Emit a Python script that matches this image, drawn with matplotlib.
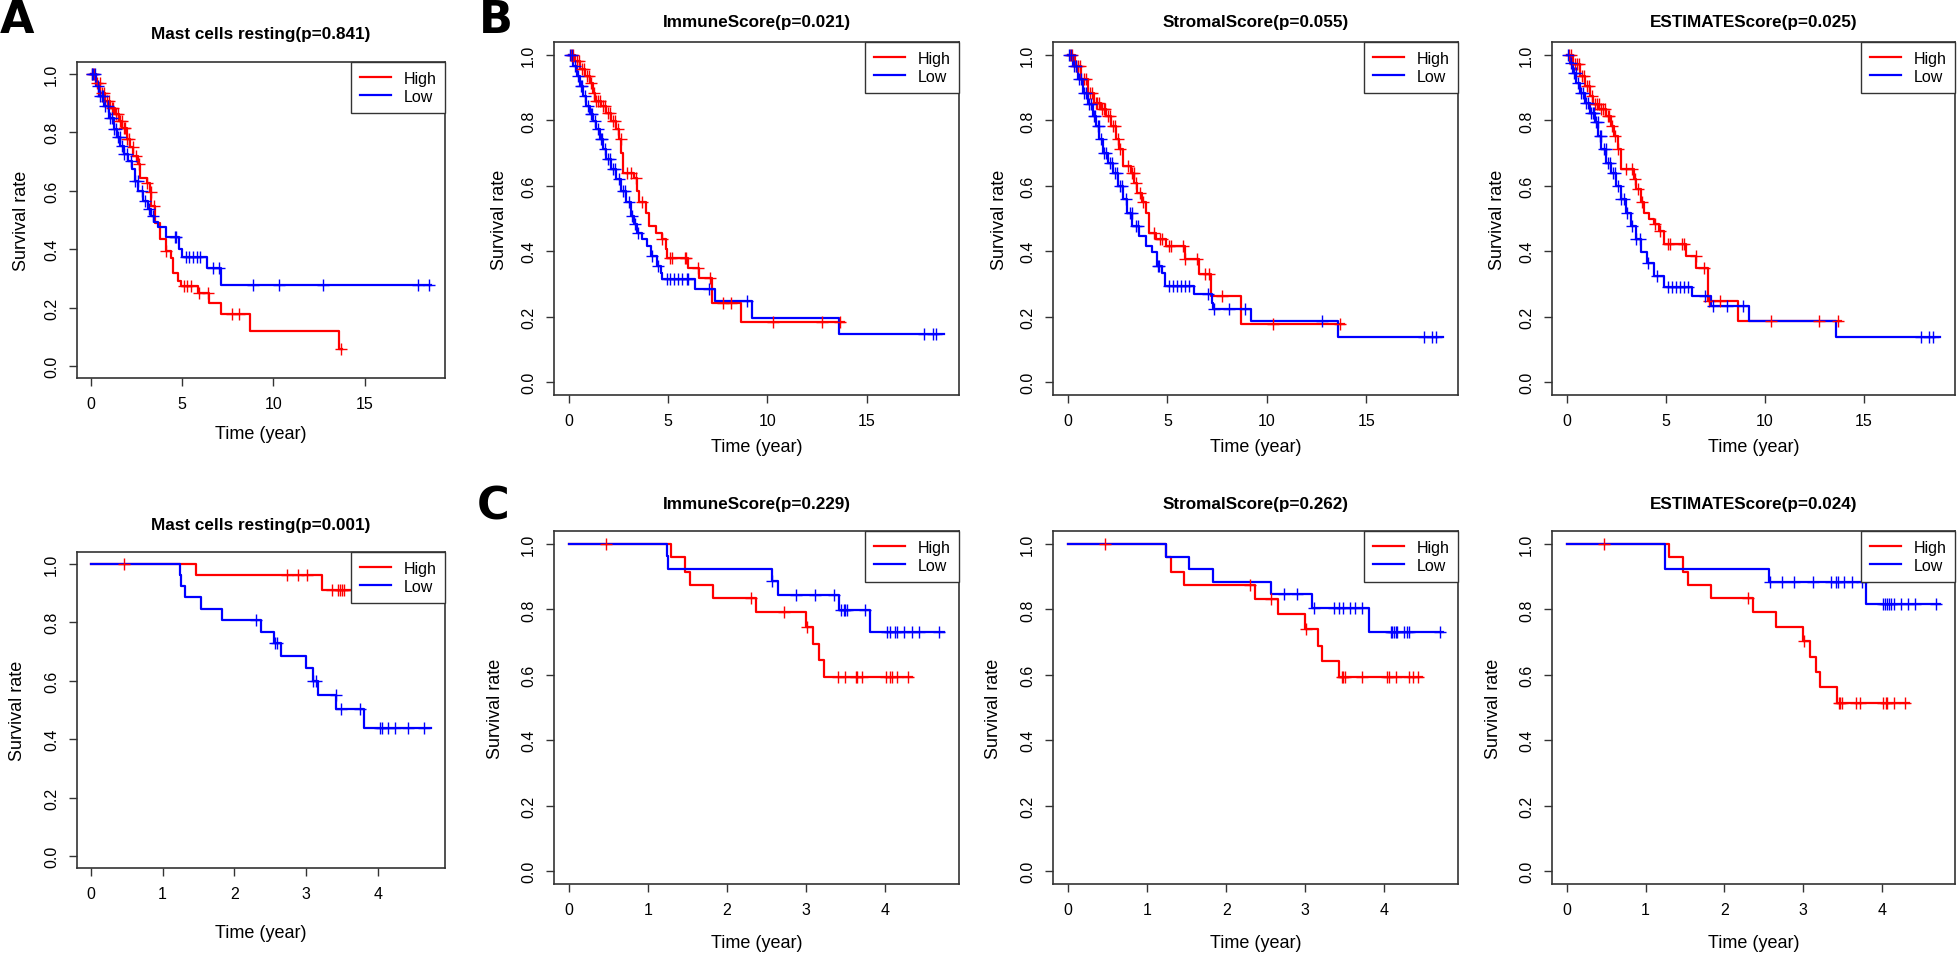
import numpy as np
import matplotlib
matplotlib.use('Agg')
import matplotlib.pyplot as plt
from matplotlib.lines import Line2D

plt.rcParams['font.family'] = ['Liberation Sans', 'DejaVu Sans']

W, H = 1957, 954

# ---- A (top): Mast cells resting, training set ----
A1_HIGH_T = [0, 0.27, 0.54, 0.81, 1.08, 1.35, 1.53, 1.71, 1.98, 2.16, 2.34, 2.61, 2.72, 3.06, 3.24,
             3.33, 3.5, 3.78, 4.14, 4.4, 4.5, 4.77, 4.95, 5.9, 6.5, 7.15, 8.7, 13.6, 13.75]
A1_HIGH_S = [1.0, 0.969, 0.935, 0.907, 0.884, 0.861, 0.838, 0.816, 0.776, 0.748, 0.719, 0.691, 0.645, 0.628, 0.594,
             0.548, 0.49, 0.434, 0.395, 0.37, 0.32, 0.293, 0.276, 0.25, 0.215, 0.18, 0.12, 0.06, 0.06]
A1_HIGH_C = [0.1, 0.2, 0.35, 0.5, 0.6, 0.75, 0.9, 1.0, 1.15, 1.25, 1.4, 1.5, 1.6, 1.7, 1.8, 1.9, 2.0, 2.1,
             2.3, 2.5, 2.65, 3.1, 3.3, 3.45, 4.15, 5.1, 5.3, 5.5, 5.95, 6.45, 7.75, 8.1, 13.7]
A1_LOW_T = [0, 0.27, 0.45, 0.72, 0.99, 1.26, 1.44, 1.62, 1.8, 2.07, 2.25, 2.43, 2.61, 2.88, 3.15, 3.33,
            3.46, 3.69, 4.14, 4.86, 5.0, 6.35, 7.15, 18.65]
A1_LOW_S = [1.0, 0.958, 0.924, 0.89, 0.85, 0.81, 0.782, 0.753, 0.725, 0.702, 0.674, 0.634, 0.6, 0.566, 0.537, 0.515,
            0.492, 0.475, 0.443, 0.40, 0.375, 0.335, 0.277, 0.277]
A1_LOW_C = [0.05, 0.15, 0.25, 0.4, 0.5, 0.6, 0.7, 0.8, 0.95, 1.05, 1.15, 1.3, 1.4, 1.5, 1.6, 1.7, 1.85, 2.0,
            2.2, 2.45, 2.6, 2.8, 3.0, 3.2, 3.4, 4.6, 4.7, 5.2, 5.4, 5.6, 5.8, 6.0, 6.7, 7.0, 8.9, 10.3, 12.7,
            17.9, 18.5]

# ---- B: ImmuneScore ----
B1_HIGH_T = [0, 0.3, 0.55, 0.8, 1.05, 1.21, 1.3, 1.63, 1.88, 2.13, 2.38, 2.54, 2.63, 2.71, 3.29, 3.45, 3.54,
             3.87, 4.04, 4.37, 4.7, 4.87, 4.95, 6.0, 6.53, 7.19, 8.69, 13.84]
B1_HIGH_S = [1.0, 0.982, 0.956, 0.936, 0.916, 0.885, 0.86, 0.844, 0.824, 0.798, 0.773, 0.742, 0.701, 0.64, 0.625,
             0.584, 0.549, 0.518, 0.477, 0.457, 0.436, 0.406, 0.38, 0.35, 0.319, 0.243, 0.182, 0.182]
B1_HIGH_C = [0.1, 0.2, 0.4, 0.5, 0.65, 0.75, 0.9, 1.0, 1.1, 1.25, 1.35, 1.45, 1.55, 1.7, 1.8, 1.95, 2.05,
             2.2, 2.3, 2.45, 2.6, 2.9, 3.12, 3.37, 3.7, 4.7, 5.1, 5.2, 5.85, 5.9, 6.5, 7.1, 7.77, 8.15, 10.3,
             12.76, 13.67]
B1_LOW_T = [0, 0.21, 0.38, 0.55, 0.71, 0.88, 1.05, 1.21, 1.38, 1.54, 1.71, 1.88, 2.13, 2.38, 2.63, 2.87, 3.12,
            3.29, 3.45, 3.7, 3.95, 4.12, 4.45, 4.62, 4.7, 6.36, 7.36, 9.24, 13.59, 18.9]
B1_LOW_S = [1.0, 0.966, 0.936, 0.905, 0.875, 0.844, 0.819, 0.798, 0.773, 0.742, 0.712, 0.681, 0.65, 0.62, 0.584,
            0.549, 0.508, 0.482, 0.457, 0.436, 0.416, 0.385, 0.355, 0.334, 0.314, 0.283, 0.248, 0.197, 0.148, 0.148]
B1_LOW_C = [0.05, 0.15, 0.3, 0.45, 0.6, 0.65, 0.8, 0.95, 1.1, 1.15, 1.3, 1.45, 1.6, 1.65, 1.8, 1.95, 2.05, 2.2,
            2.3, 2.5, 2.7, 2.8, 3.0, 3.2, 3.35, 3.5, 4.2, 4.5, 4.95, 5.1, 5.3, 5.5, 5.7, 5.95, 6.0, 7.05, 8.95,
            17.9, 18.35, 18.5]

# ---- B: StromalScore ----
B2_HIGH_T = [0, 0.33, 0.66, 1.0, 1.33, 1.66, 1.91, 2.16, 2.4, 2.57, 2.74, 3.15, 3.32, 3.48, 3.73, 3.9, 4.07,
             4.4, 4.95, 5.89, 6.56, 7.17, 8.68, 13.87]
B2_HIGH_S = [1.0, 0.966, 0.926, 0.885, 0.854, 0.834, 0.813, 0.783, 0.742, 0.712, 0.661, 0.64, 0.61, 0.579, 0.549,
             0.518, 0.457, 0.436, 0.416, 0.375, 0.329, 0.263, 0.176, 0.176]
B2_HIGH_C = [0.1, 0.2, 0.4, 0.5, 0.6, 0.8, 0.9, 1.1, 1.2, 1.4, 1.45, 1.55, 1.7, 1.8, 1.85, 2.0, 2.1, 2.25,
             2.35, 2.5, 2.6, 3.0, 3.2, 3.3, 3.4, 3.6, 3.75, 4.3, 4.6, 4.7, 5.1, 5.2, 5.8, 5.9, 6.5, 6.9, 7.1,
             7.75, 10.3, 13.65]
B2_LOW_T = [0, 0.25, 0.5, 0.75, 1.0, 1.24, 1.41, 1.58, 1.74, 1.99, 2.24, 2.49, 2.74, 2.99, 3.24, 3.57, 3.9,
            4.23, 4.48, 4.73, 4.89, 6.32, 7.22, 7.3, 9.22, 13.57, 18.85]
B2_LOW_S = [1.0, 0.966, 0.926, 0.885, 0.849, 0.813, 0.783, 0.742, 0.701, 0.671, 0.64, 0.599, 0.559, 0.518, 0.477,
            0.446, 0.416, 0.396, 0.355, 0.334, 0.294, 0.268, 0.243, 0.222, 0.187, 0.138, 0.138]
B2_LOW_C = [0.05, 0.15, 0.3, 0.4, 0.55, 0.65, 0.8, 0.9, 1.05, 1.15, 1.3, 1.35, 1.5, 1.55, 1.65, 1.8, 1.9, 2.1,
            2.2, 2.35, 2.45, 2.6, 2.7, 2.9, 3.1, 3.2, 3.4, 3.5, 4.5, 4.55, 5.1, 5.3, 5.5, 5.7, 5.9, 6.1, 7.05,
            7.35, 8.1, 8.9, 12.75, 17.9, 18.3, 18.5]

# ---- B: ESTIMATEScore ----
B3_HIGH_T = [0, 0.31, 0.65, 0.9, 1.15, 1.31, 1.64, 1.98, 2.23, 2.39, 2.56, 2.73, 3.39, 3.47, 3.72, 3.89, 4.14,
             4.39, 4.63, 4.88, 6.04, 6.54, 7.13, 8.66, 13.87]
B3_HIGH_S = [1.0, 0.972, 0.936, 0.905, 0.875, 0.849, 0.834, 0.813, 0.783, 0.752, 0.712, 0.65, 0.62, 0.589, 0.549,
             0.518, 0.498, 0.482, 0.462, 0.421, 0.385, 0.35, 0.248, 0.187, 0.187]
B3_HIGH_C = [0.1, 0.2, 0.4, 0.5, 0.6, 0.75, 0.85, 1.0, 1.1, 1.25, 1.4, 1.5, 1.6, 1.7, 1.8, 1.9, 2.05, 2.15,
             2.3, 2.45, 2.6, 3.0, 3.3, 3.45, 3.6, 3.8, 4.45, 4.7, 5.1, 5.2, 5.8, 5.9, 6.5, 6.9, 7.2, 7.75, 10.3,
             12.75, 13.7]
B3_LOW_T = [0, 0.15, 0.31, 0.48, 0.65, 0.9, 1.15, 1.4, 1.56, 1.73, 1.98, 2.23, 2.48, 2.73, 2.98, 3.22, 3.47,
            3.72, 4.05, 4.38, 4.88, 6.34, 7.29, 9.22, 13.57, 18.85]
B3_LOW_S = [1.0, 0.977, 0.946, 0.916, 0.885, 0.854, 0.824, 0.794, 0.752, 0.712, 0.671, 0.64, 0.599, 0.559, 0.518,
            0.477, 0.436, 0.396, 0.365, 0.324, 0.289, 0.263, 0.232, 0.187, 0.138, 0.138]
B3_LOW_C = [0.05, 0.2, 0.35, 0.45, 0.55, 0.7, 0.8, 0.95, 1.05, 1.2, 1.3, 1.35, 1.45, 1.55, 1.65, 1.7, 1.85,
            1.95, 2.1, 2.2, 2.35, 2.45, 2.6, 2.75, 2.9, 3.05, 3.3, 3.5, 3.7, 4.1, 4.55, 5.1, 5.3, 5.5, 5.7, 5.9,
            6.1, 7.0, 7.4, 8.1, 8.9, 17.9, 18.3, 18.5]

# ---- A (bottom): Mast cells resting, validation set ----
A2_HIGH_T = [0, 1.466, 3.217, 4.3]
A2_HIGH_S = [1.0, 0.96, 0.91, 0.91]
A2_HIGH_C = [0.467, 2.73, 2.89, 3.01, 3.36, 3.44, 3.47, 3.5, 3.53, 3.64, 3.9, 4.1, 4.3]
A2_LOW_T = [0, 1.237, 1.26, 1.306, 1.535, 1.824, 2.369, 2.557, 2.648, 3.0, 3.093, 3.16, 3.42, 3.803, 4.74]
A2_LOW_S = [1.0, 0.96, 0.924, 0.886, 0.846, 0.808, 0.768, 0.728, 0.685, 0.642, 0.6, 0.552, 0.503, 0.44, 0.44]
A2_LOW_C = [2.3, 2.56, 2.59, 3.1, 3.14, 3.41, 3.48, 3.75, 4.02, 4.05, 4.13, 4.23, 4.42, 4.64]

# ---- C: ImmuneScore ----
C1_HIGH_T = [0, 1.297, 1.464, 1.535, 1.827, 2.369, 3.003, 3.087, 3.162, 3.224, 4.35]
C1_HIGH_S = [1.0, 0.959, 0.916, 0.876, 0.834, 0.791, 0.745, 0.694, 0.645, 0.594, 0.594]
C1_HIGH_C = [0.463, 2.31, 2.72, 3.01, 3.41, 3.5, 3.63, 3.65, 3.71, 4.02, 4.06, 4.09, 4.15, 4.3]
C1_LOW_T = [0, 1.237, 1.25, 2.565, 2.653, 3.424, 3.808, 4.75]
C1_LOW_S = [1.0, 0.964, 0.924, 0.886, 0.845, 0.797, 0.731, 0.731]
C1_LOW_C = [2.57, 2.88, 3.12, 3.36, 3.45, 3.48, 3.5, 3.52, 3.75, 4.025, 4.067, 4.13, 4.15, 4.246, 4.34,
            4.43, 4.69]

# ---- C: StromalScore ----
C2_HIGH_T = [0, 1.243, 1.305, 1.464, 2.36, 2.653, 3.0, 3.162, 3.207, 3.424, 4.475]
C2_HIGH_S = [1.0, 0.959, 0.916, 0.876, 0.832, 0.786, 0.74, 0.689, 0.641, 0.592, 0.592]
C2_HIGH_C = [0.463, 2.3, 2.57, 3.01, 3.46, 3.48, 3.5, 3.72, 4.03, 4.06, 4.15, 4.31, 4.36, 4.43]
C2_LOW_T = [0, 1.243, 1.535, 1.831, 2.569, 3.09, 3.808, 4.74]
C2_LOW_S = [1.0, 0.96, 0.924, 0.885, 0.847, 0.803, 0.731, 0.731]
C2_LOW_C = [2.73, 2.9, 3.11, 3.36, 3.42, 3.47, 3.57, 3.63, 3.72, 4.08, 4.1, 4.12, 4.14, 4.16, 4.25, 4.28,
            4.31, 4.7]

# ---- C: ESTIMATEScore ----
C3_HIGH_T = [0, 1.3, 1.471, 1.533, 1.825, 2.367, 2.654, 3.0, 3.092, 3.158, 3.22, 3.425, 4.35]
C3_HIGH_S = [1.0, 0.959, 0.916, 0.876, 0.834, 0.791, 0.745, 0.702, 0.655, 0.608, 0.562, 0.514, 0.514]
C3_HIGH_C = [0.467, 2.3, 3.01, 3.45, 3.47, 3.49, 3.67, 3.72, 4.02, 4.05, 4.07, 4.15, 4.3]
C3_LOW_T = [0, 1.242, 1.25, 2.563, 3.8, 4.74]
C3_LOW_S = [1.0, 0.961, 0.924, 0.885, 0.817, 0.817]
C3_LOW_C = [2.58, 2.73, 2.89, 3.13, 3.36, 3.42, 3.44, 3.52, 3.62, 3.75, 4.02, 4.04, 4.07, 4.09, 4.12, 4.15,
            4.25, 4.33, 4.42, 4.69]

TITLES = ['Mast cells resting(p=0.841)', 'ImmuneScore(p=0.021)', 'StromalScore(p=0.055)',
          'ESTIMATEScore(p=0.025)', 'Mast cells resting(p=0.001)', 'ImmuneScore(p=0.229)',
          'StromalScore(p=0.262)', 'ESTIMATEScore(p=0.024)']
XTICKS_LONG = [0, 5, 10, 15]
XTICKS_SHORT = [0, 1, 2, 3, 4]
YTICKS = [0.0, 0.2, 0.4, 0.6, 0.8, 1.0]

CURVES = [
    (A1_HIGH_T, A1_HIGH_S, A1_HIGH_C, A1_LOW_T, A1_LOW_S, A1_LOW_C),
    (B1_HIGH_T, B1_HIGH_S, B1_HIGH_C, B1_LOW_T, B1_LOW_S, B1_LOW_C),
    (B2_HIGH_T, B2_HIGH_S, B2_HIGH_C, B2_LOW_T, B2_LOW_S, B2_LOW_C),
    (B3_HIGH_T, B3_HIGH_S, B3_HIGH_C, B3_LOW_T, B3_LOW_S, B3_LOW_C),
    (A2_HIGH_T, A2_HIGH_S, A2_HIGH_C, A2_LOW_T, A2_LOW_S, A2_LOW_C),
    (C1_HIGH_T, C1_HIGH_S, C1_HIGH_C, C1_LOW_T, C1_LOW_S, C1_LOW_C),
    (C2_HIGH_T, C2_HIGH_S, C2_HIGH_C, C2_LOW_T, C2_LOW_S, C2_LOW_C),
    (C3_HIGH_T, C3_HIGH_S, C3_HIGH_C, C3_LOW_T, C3_LOW_S, C3_LOW_C),
]

# layout in pixels: (left, top, right, bottom), title gap, ylabel gap, xlabel gap
BOXES = [(77, 63, 445, 379), (554, 43, 959, 396), (1053, 43, 1458, 396), (1552, 43, 1955, 396),
         (77, 553, 445, 869), (554, 532, 959, 885), (1053, 532, 1458, 885), (1552, 532, 1955, 885)]
TITLE_GAP = [35, 27, 27, 27, 34, 34, 34, 34]
YLAB_GAP = [55, 54, 54, 54, 59, 59, 59, 59]
XLAB_GAP = [56, 51, 51, 51, 65, 59, 59, 59]

RED = '#FF0000'
BLUE = '#0000FF'
EDGE = '#333333'


def km_curve(ax, t, s, cens, color):
    t = np.asarray(t)
    s = np.asarray(s)
    ax.step(t, s, where='post', color=color, lw=1.6, zorder=2)
    c = np.asarray(cens)
    idx = np.searchsorted(t, c, side='right') - 1
    ax.plot(c, s[idx], ls='none', marker='+', ms=8, mew=1.0, color=color, zorder=3)


fig = plt.figure(figsize=(W / 100, H / 100), dpi=100)

for i, curves in enumerate(CURVES):
    l, t, r, b = BOXES[i]
    ax = fig.add_axes([l / W, 1 - b / H, (r - l) / W, (b - t) / H])
    ht, hs, hc, lt, ls_, lc = curves
    km_curve(ax, ht, hs, hc, RED)
    km_curve(ax, lt, ls_, lc, BLUE)

    xmax = max(max(ht), max(lt))
    ax.set_xlim(-0.04 * xmax, 1.04 * xmax)
    ax.set_ylim(-0.04, 1.04)
    ax.set_xticks(XTICKS_LONG if i < 4 else XTICKS_SHORT)
    ax.set_yticks(YTICKS)
    ax.set_yticklabels([f'{v:.1f}' for v in YTICKS], rotation=90, va='center')
    ax.tick_params(direction='out', length=6, width=1, labelsize=11.5, pad=7, color=EDGE)
    for sp in ax.spines.values():
        sp.set_linewidth(1.2)
        sp.set_color(EDGE)

    ax.set_title(TITLES[i], fontsize=12.3, fontweight='bold', pad=TITLE_GAP[i] * 0.72 - 8)
    ax.set_xlabel('Time (year)', fontsize=13)
    ax.set_ylabel('Survival rate', fontsize=13)
    ax.xaxis.set_label_coords(0.5, -XLAB_GAP[i] / (b - t))
    ax.xaxis.label.set_va('center')
    ax.yaxis.set_label_coords(-YLAB_GAP[i] / (r - l), 0.5)
    ax.yaxis.label.set_va('center')

    handles = [Line2D([], [], color=RED, lw=1.6), Line2D([], [], color=BLUE, lw=1.6)]
    leg = ax.legend(handles, ['High', 'Low'], loc='upper right', borderaxespad=0, fancybox=False,
                    edgecolor=EDGE, framealpha=1, fontsize=11.5, handlelength=1.9, handletextpad=0.8,
                    labelspacing=0.2, borderpad=0.55)
    leg.get_frame().set_linewidth(1.0)

# panel letters (baseline at the bottom of the capitals)
for letter, x, y in [('A', 0, 33), ('B', 479, 33), ('C', 477, 519)]:
    fig.text(x / W, 1 - y / H, letter, fontsize=32, fontweight='bold', ha='left', va='baseline',
             family='DejaVu Sans')

fig.savefig('out.png', dpi=100, facecolor='white')
